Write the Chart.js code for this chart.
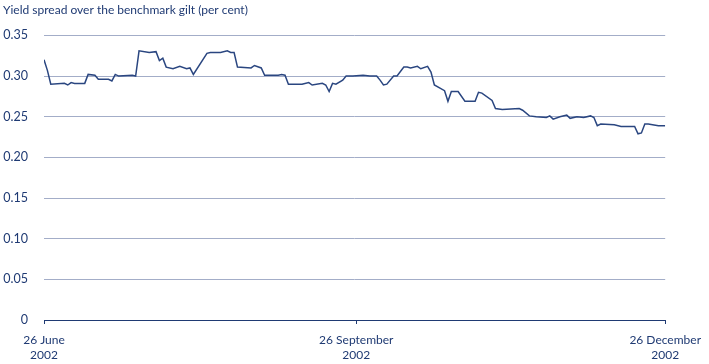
<!DOCTYPE html>
<html>
<head>
<meta charset="utf-8">
<script src="https://cdn.jsdelivr.net/npm/chart.js@4.4.0/dist/chart.umd.min.js"></script>
<style>
  html, body { margin: 0; padding: 0; background: #ffffff; }
  #wrap { width: 709px; height: 364px; position: relative; }
</style>
</head>
<body>
<div id="wrap"><canvas id="c" width="709" height="364"></canvas></div>
<script>
// Days since 26 June 2002 at each observed point
const days = [0,1,2,6,7,8,9,12,13,15,16,19,20,21,22,26,27,28,31,33,34,35,36,38,40,42,43,44,48,49,51,52,54,55,56,57,61,62,64,65,69,70,71,72,76,78,79,82,83,84,85,86,88,89,91,94,96,98,99,100,101,103,104,106,107,108,110,111,113,114,115,118,119,120,122,124,127,128,129,132,133,135,140,141,143,145,148,149,150,152,154,155,157,159,161,162,163,164,168,170,174,175,176,177,178,181,183];
// Yield spread over the benchmark gilt (per cent)
const spread = [0.320,0.307,0.290,0.291,0.289,0.292,0.291,0.291,0.302,0.301,0.296,0.296,0.294,0.302,0.300,0.301,0.300,0.331,0.329,0.330,0.319,0.322,0.311,0.309,0.312,0.309,0.310,0.302,0.328,0.329,0.329,0.329,0.331,0.329,0.329,0.311,0.310,0.313,0.310,0.301,0.301,0.302,0.301,0.290,0.290,0.292,0.289,0.291,0.289,0.281,0.291,0.290,0.295,0.300,0.300,0.301,0.300,0.300,0.295,0.289,0.290,0.300,0.300,0.311,0.311,0.310,0.312,0.309,0.312,0.305,0.289,0.282,0.269,0.281,0.281,0.269,0.269,0.280,0.279,0.270,0.260,0.259,0.260,0.258,0.251,0.250,0.249,0.251,0.247,0.250,0.252,0.248,0.250,0.249,0.251,0.249,0.239,0.241,0.240,0.238,0.238,0.229,0.230,0.241,0.241,0.239,0.239];
const xTickDays = [0, 92, 183];
const xTickLabels = [['26 June', '2002'], ['26 September', '2002'], ['26 December', '2002']];
const yTickValues = [0, 0.05, 0.10, 0.15, 0.20, 0.25, 0.30, 0.35];
const yTickLabels = ['0', '0.05', '0.10', '0.15', '0.20', '0.25', '0.30', '0.35'];
const titleText = 'Yield spread over the benchmark gilt (per cent)';

const NAVY = '#1f3a73';
const LINE = '#2a4680';
const GRID = '#a3adc8';
const FONT = 'Lato, "Open Sans", sans-serif';

const points = days.map((d, i) => ({ x: d, y: spread[i] }));

new Chart(document.getElementById('c'), {
  type: 'line',
  data: {
    datasets: [{
      data: points,
      borderColor: LINE,
      borderWidth: 1.5,
      pointRadius: 0,
      tension: 0,
      fill: false
    }]
  },
  options: {
    responsive: false,
    animation: false,
    layout: { padding: { left: 3, right: 41, top: 0, bottom: 0 } },
    plugins: {
      legend: { display: false },
      tooltip: { enabled: false },
      title: {
        display: true,
        text: titleText,
        align: 'start',
        color: NAVY,
        font: { family: FONT, size: 12, weight: 'normal' },
        padding: { top: 3, bottom: 18 }
      }
    },
    scales: {
      x: {
        type: 'linear',
        min: 0,
        max: 183,
        afterBuildTicks: (scale) => { scale.ticks = xTickDays.map(v => ({ value: v })); },
        afterFit: (scale) => { scale.height = 44; },
        grid: {
          drawOnChartArea: false,
          drawTicks: true,
          tickLength: 4,
          color: NAVY,
          lineWidth: 1
        },
        border: { display: true, color: NAVY, width: 1 },
        ticks: {
          autoSkip: false,
          maxRotation: 0,
          padding: 8,
          color: NAVY,
          font: { family: FONT, size: 12, lineHeight: 1.3 },
          callback: (v) => { const i = xTickDays.indexOf(v); return i >= 0 ? xTickLabels[i] : ''; }
        }
      },
      y: {
        min: 0,
        max: 0.35,
        afterBuildTicks: (scale) => { scale.ticks = yTickValues.map(v => ({ value: v })); },
        afterFit: (scale) => { scale.width = 41; },
        grid: {
          drawTicks: false,
          color: (ctx) => ctx.tick && ctx.tick.value === 0 ? NAVY : GRID,
          lineWidth: 1
        },
        border: { display: false },
        ticks: {
          padding: 16,
          color: NAVY,
          font: { family: FONT, size: 12.5 },
          callback: (v) => { const i = yTickValues.findIndex(t => Math.abs(t - v) < 1e-9); return i >= 0 ? yTickLabels[i] : ''; }
        }
      }
    }
  }
});
</script>
</body>
</html>
